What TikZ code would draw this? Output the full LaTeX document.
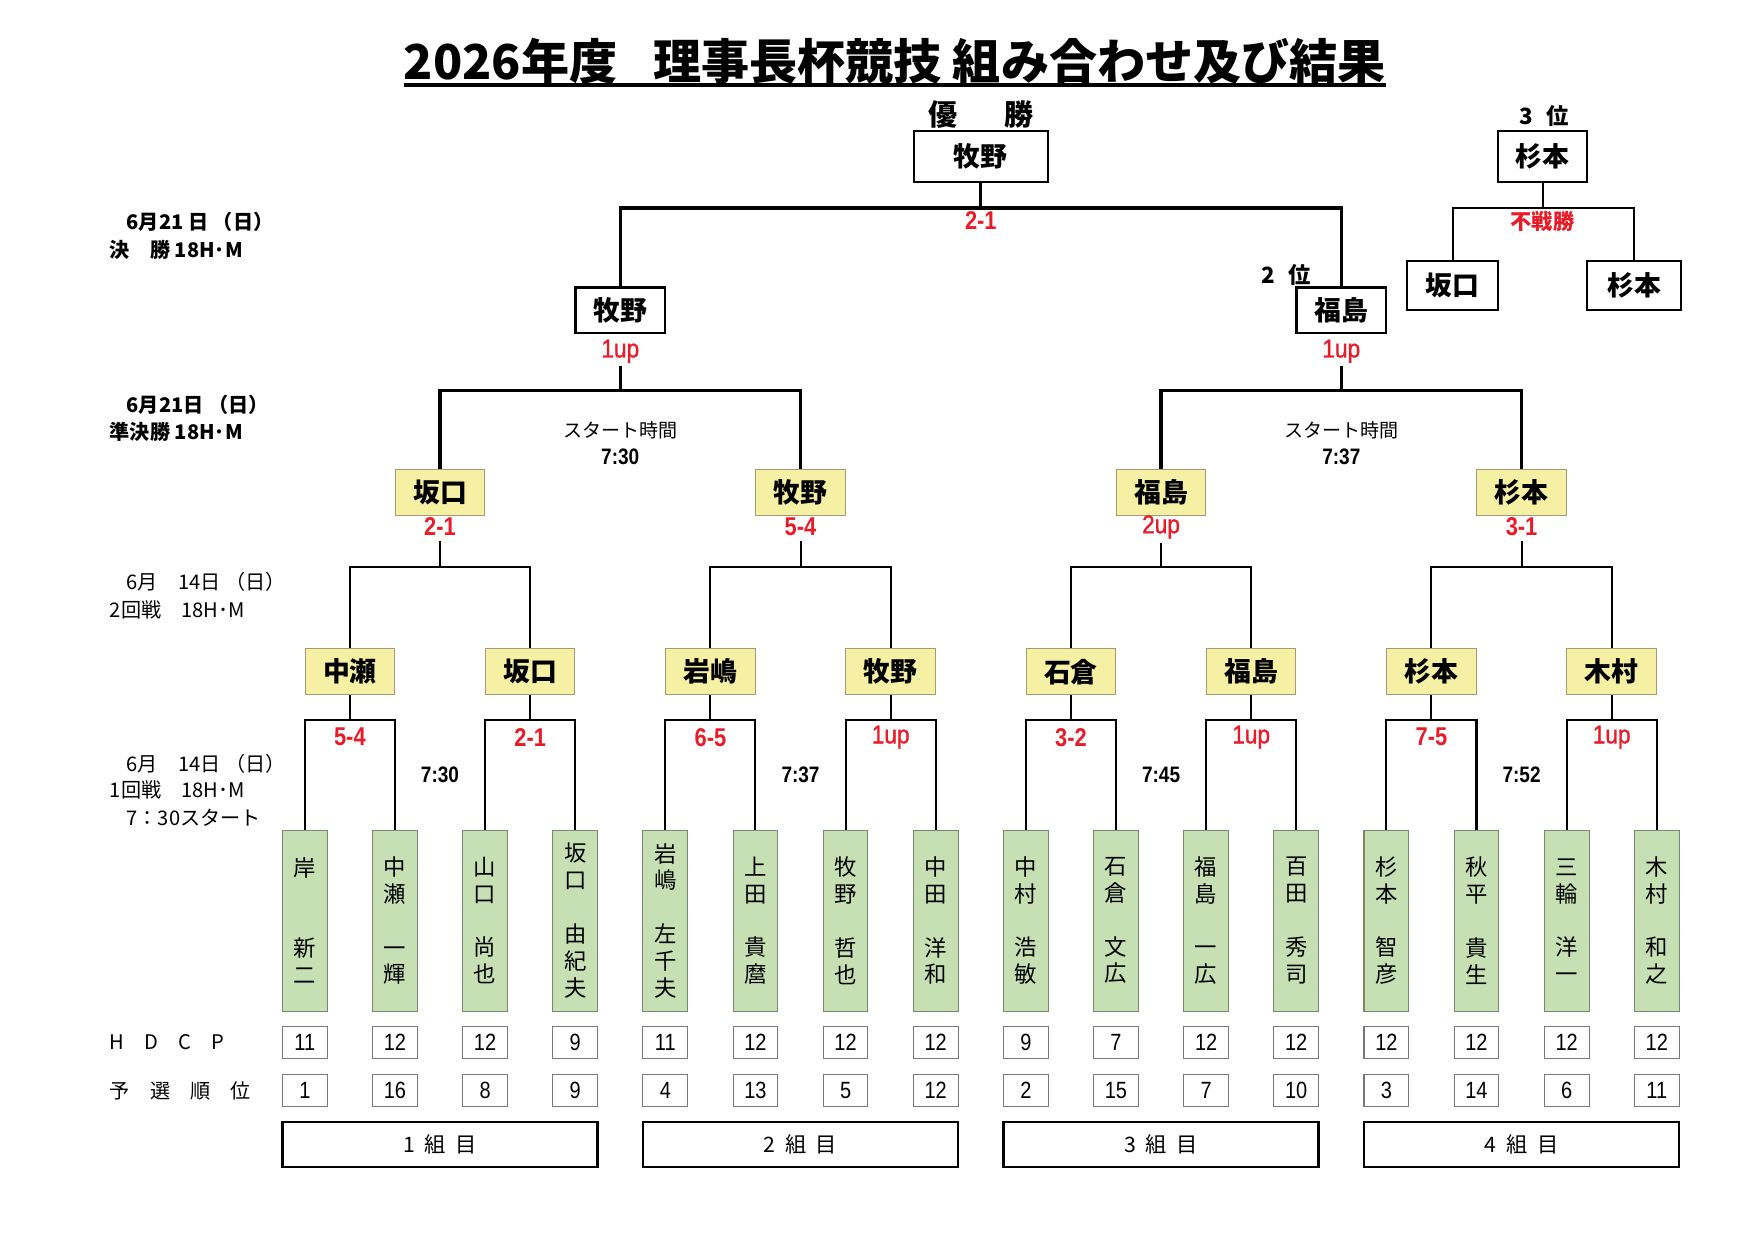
\documentclass[tikz,border=0pt]{standalone}
\usepackage{fontspec}
\setmainfont{Noto Sans CJK JP}
\newfontfamily\numf[FakeStretch=0.85]{Liberation Sans}
\newfontfamily\numm[FakeStretch=0.88,FakeBold=1.2]{Liberation Sans}
\newcommand\fsz[1]{\fontsize{#1}{#1}\selectfont}
\newcommand\gsz{\fontsize{20}{24}\selectfont}
\newcommand\blankrow{\phantom{口}}
\definecolor{yfill}{RGB}{246,240,164}
\definecolor{ybord}{RGB}{165,155,115}
\definecolor{gfill}{RGB}{198,224,180}
\definecolor{gbord}{RGB}{120,135,110}
\definecolor{nbord}{RGB}{120,120,120}
\definecolor{scred}{RGB}{232,28,40}
\begin{document}
\begin{tikzpicture}[x=1pt,y=-1pt,
  wbox/.style={draw,line width=2pt,fill=white,minimum width=80pt,minimum height=41pt,inner sep=0pt,font=\bfseries\fsz{24}},
  ybox/.style={draw=ybord,line width=0.9pt,fill=yfill,minimum width=80pt,minimum height=41pt,inner sep=0pt,font=\bfseries\fsz{24}},
  gbox/.style={draw=gbord,line width=0.9pt,fill=gfill,minimum width=40pt,minimum height=162pt,inner sep=0pt,align=center,font=\gsz},
  nbox/.style={draw=nbord,line width=0.9pt,fill=white,minimum width=40pt,minimum height=29pt,inner sep=0pt,font=\numf\fsz{21}},
  grp/.style={draw,line width=2pt,minimum width=281.7pt,minimum height=40pt,inner sep=0pt,font=\fsz{19}},
  score/.style={text=scred,inner sep=0pt,font=\numf\fsz{23}},
  upsc/.style={text=scred,inner sep=0pt,font=\numm\fsz{23}},
  timef/.style={inner sep=0pt,font=\numf\bfseries\fsz{20}},
  lab/.style={anchor=west,inner sep=0pt,font=\fsz{18}},
  tn/.style={line width=1.8pt},
  bk/.style={line width=3pt}]
\fill[white] (0,0) rectangle (1568,1109);
\useasboundingbox (0,0) rectangle (1568,1109);

% title
\node[anchor=base,inner sep=0pt,font=\bfseries\fsz{43}] (title) at (800,71) {2026年度\hspace{0.75em}理事長杯競技 組み合わせ及び結果};
\draw[line width=3pt] ([yshift=-5pt]title.base west) -- ([yshift=-5pt]title.base east);

% left labels
\node[lab,font=\bfseries\fsz{18}] (d1) at (113,198) {6月21 日 （日）};
\node[lab,font=\bfseries\fsz{18}] (e1) at (98,223) {決　勝 18H･M};
\node[lab,font=\bfseries\fsz{18}] (d2) at (113,362) {6月21日 （日）};
\node[lab,font=\bfseries\fsz{18}] (e2) at (98,386) {準決勝 18H･M};
\node[lab] (d3) at (113,520) {6月　14日 （日）};
\node[lab] (e3) at (98,545) {2回戦　18H･M};
\node[lab] (d4) at (113,683) {6月　14日 （日）};
\node[lab] (e4) at (98,706) {1回戦　18H･M};
\node[lab] (e5) at (113,731) {7：30スタート};
\node[lab] (hdl) at (98,932) {H　D　C　P};
\node[lab] (rkl) at (98,975) {予　選　順　位};

% players
\foreach \i/\nm/\hd/\rk in {
 1/{岸\\\blankrow\\\blankrow\\新\\二}/11/1,
 2/{中\\瀬\\\blankrow\\一\\輝}/12/16,
 3/{山\\口\\\blankrow\\尚\\也}/12/8,
 4/{坂\\口\\\blankrow\\由\\紀\\夫}/9/9,
 5/{岩\\嶋\\\blankrow\\左\\千\\夫}/11/4,
 6/{上\\田\\\blankrow\\貴\\麿}/12/13,
 7/{牧\\野\\\blankrow\\哲\\也}/12/5,
 8/{中\\田\\\blankrow\\洋\\和}/12/12,
 9/{中\\村\\\blankrow\\浩\\敏}/9/2,
 10/{石\\倉\\\blankrow\\文\\広}/7/15,
 11/{福\\島\\\blankrow\\一\\広}/12/7,
 12/{百\\田\\\blankrow\\秀\\司}/12/10,
 13/{杉\\本\\\blankrow\\智\\彦}/12/3,
 14/{秋\\平\\\blankrow\\貴\\生}/12/14,
 15/{三\\輪\\\blankrow\\洋\\一}/12/6,
 16/{木\\村\\\blankrow\\和\\之}/12/11}{
  \pgfmathsetmacro\gx{272.5+80.57*(\i-1)}
  \node[gbox] (g\i) at (\gx,823) {\nm};
  \node[nbox] (h\i) at (\gx,932) {\hd};
  \node[nbox] (k\i) at (\gx,975) {\rk};
}

% groups
\foreach \q in {1,2,3,4}{
  \pgfmathsetmacro\cx{272.5+80.57*(4*\q-2.5)}
  \node[grp] (grp\q) at (\cx,1023) {\q\hspace{0.45em}組\hspace{0.45em}目};
}

% round 1 winners
\foreach \j/\nm/\sc in {1/中瀬/{\bfseries 5-4},2/坂口/{\bfseries 2-1},3/岩嶋/{\bfseries 6-5},4/牧野/{\numm 1up},5/石倉/{\bfseries 3-2},6/福島/{\numm 1up},7/杉本/{\bfseries 7-5},8/木村/{\numm 1up}}{
  \pgfmathtruncatemacro\a{2*\j-1}
  \pgfmathtruncatemacro\b{2*\j}
  \pgfmathsetmacro\rx{272.5+80.57*(2*\j-1.5)}
  \node[ybox] (r\j) at (\rx,600.5) {\nm};
  \coordinate (rb\j) at (\rx,644);
  \node[score] (rs\j) at (\rx,659) {\sc};
  \draw[tn] (g\a.north) |- (rb\j) -| (g\b.north);
  \draw[tn] (r\j.south) -- (rb\j);
}

% round 2 winners
\foreach \k/\nm/\sc/\tm in {1/坂口/{\bfseries 2-1}/7:30,2/牧野/{\bfseries 5-4}/7:37,3/福島/{\numm 2up}/7:45,4/杉本/{\bfseries 3-1}/7:52}{
  \pgfmathtruncatemacro\a{2*\k-1}
  \pgfmathtruncatemacro\b{2*\k}
  \pgfmathsetmacro\sx{272.5+80.57*(4*\k-2.5)}
  \node[ybox] (s\k) at (\sx,440.5) {\nm};
  \node[score] (ss\k) at (\sx,471) {\sc};
  \coordinate (sb\k) at (\sx,507);
  \draw[tn] (r\a.north) |- (sb\k) -| (r\b.north);
  \draw[tn] ([yshift=-4pt]ss\k.south) -- (sb\k);
  \node[timef] (tm\k) at (\sx,693) {\tm};
}

% semifinal winners
\foreach \m/\nm/\tm in {1/牧野/7:30,2/福島/7:37}{
  \pgfmathtruncatemacro\a{2*\m-1}
  \pgfmathtruncatemacro\b{2*\m}
  \pgfmathsetmacro\fx{272.5+80.57*(8*\m-4.5)}
  \node[wbox] (f\m) at (\fx,277.5) {\nm};
  \node[upsc] (fs\m) at (\fx,314) {1up};
  \coordinate (fb\m) at (\fx,349);
  \draw[bk] (s\a.north) |- (fb\m) -| (s\b.north);
  \draw[bk] ([yshift=-3pt]fs\m.south) -- (fb\m);
  \node[inner sep=0pt,font=\fsz{17}] (st\m) at (\fx,385) {スタート時間};
  \node[timef] (sm\m) at (\fx,408) {\tm};
}

% champion
\node[wbox,minimum width=120pt,minimum height=46pt] (ch) at (876.8,140) {牧野};
\coordinate (cb) at (876.8,186);
\draw[bk] (f1.north) |- (cb) -| (f2.north);
\draw[bk] (ch.south) -- (cb);
\node[score] (cs) at (876.8,197) {\bfseries 2-1};
\node[inner sep=0pt,font=\bfseries\fsz{26}] (yu) at (877,102) {優\hspace{1.6em}勝};
\node[inner sep=0pt,font=\bfseries\fsz{20}] (second) at (1150,246) {2\hspace{0.6em}位};

% third place
\node[wbox,minimum height=46pt] (t0) at (1379,140) {杉本};
\node[wbox,minimum width=81pt,minimum height=44pt] (t1) at (1298.5,255) {坂口};
\node[wbox,minimum width=84pt,minimum height=44pt] (t2) at (1461,255) {杉本};
\coordinate (tb) at (1379,186);
\draw[tn] (t1.north) |- (tb) -| (t2.north);
\draw[tn] (t0.south) -- (tb);
\node[inner sep=0pt,text=scred,font=\bfseries\fsz{19}] (fsh) at (1379,198) {不戦勝};
\node[inner sep=0pt,font=\bfseries\fsz{20}] (third) at (1380,104) {3\hspace{0.6em}位};
\end{tikzpicture}
\end{document}
